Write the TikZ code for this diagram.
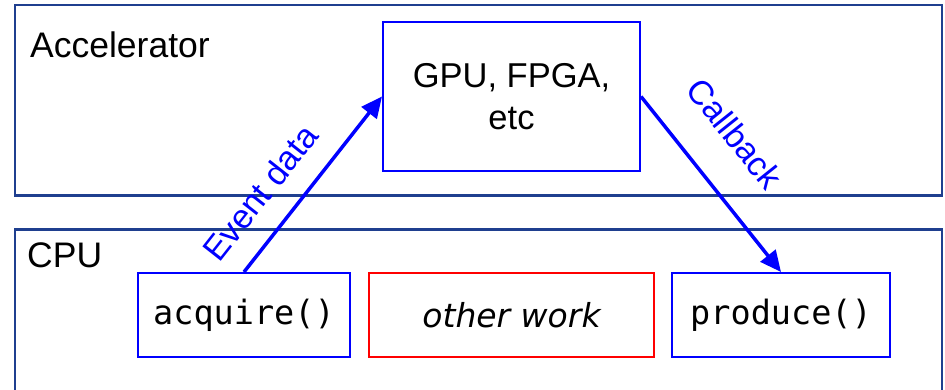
\documentclass[tikz,border=0pt]{standalone}
\usepackage{fontspec}
\setmainfont{Liberation Sans}
\newfontfamily\codefont{DejaVu Sans Mono}
\newfontfamily\workfont{DejaVu Sans}
\usetikzlibrary{arrows.meta}

\definecolor{regionblue}{HTML}{1F3F8F}

\begin{document}
\begin{tikzpicture}[x=1pt, y=1pt,
  region/.style={draw=regionblue, line width=2.5pt},
  regiontitle/.style={anchor=base west, inner sep=0pt, font=\fontsize{35.5}{42}\selectfont},
  unit/.style={draw=blue, line width=2pt, inner sep=0pt, minimum height=84pt},
  codetext/.style={font=\codefont\fontsize{33.5}{40}\selectfont},
  flow/.style={draw=blue, line width=3.5pt, -{Triangle[length=21pt, width=19pt]}},
  flowlabel/.style={inner sep=0pt, text=blue, font=\fontsize{34}{40}\selectfont},
]
\clip (0,0) rectangle (945,-390);

% the two hardware regions
\draw[region] (15,-5) rectangle (942,-195.5);
\draw[region] (15,-229.5) rectangle (942,-420);
\node[regiontitle] (acc) at (30,-58) {Accelerator};
\node[regiontitle] (cpu) at (27,-267) {CPU};

% accelerator device
\node[unit, minimum width=257pt, minimum height=149pt, align=center,
      font=\fontsize{34.5}{42}\selectfont] (gpu) at (511.5,-96.5) {GPU, FPGA,\\etc};

% CPU-side steps
\node[unit, codetext, minimum width=212pt] (acq) at (244,-315) {acquire()};
\node[unit, draw=red, minimum width=285pt,
      font=\workfont\itshape\fontsize{33}{40}\selectfont] (other) at (511.5,-315) {other work};
\node[unit, codetext, minimum width=218pt] (prod) at (781,-315) {produce()};

% data flow between CPU and accelerator
\draw[flow] (acq.north) -- node[flowlabel, pos=0.325, sloped, above=22pt] {Event data} (gpu.west);
\draw[flow] (gpu.east) -- node[flowlabel, pos=0.39, sloped, above=36pt] {Callback} (prod.north);
\end{tikzpicture}
\end{document}
